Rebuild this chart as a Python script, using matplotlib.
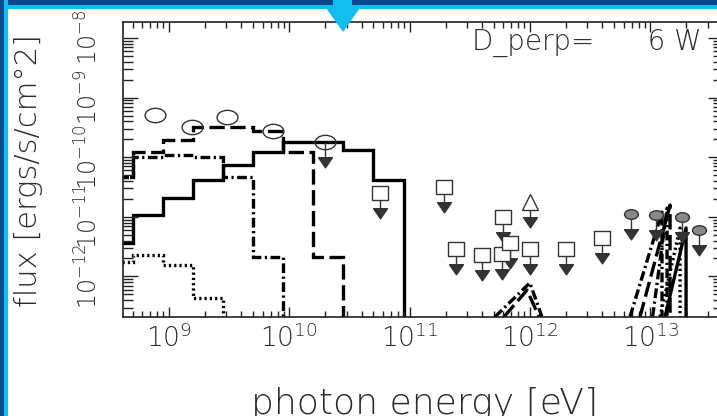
import matplotlib
matplotlib.use("Agg")
import matplotlib.pyplot as plt
import numpy as np
from matplotlib.patches import Rectangle, Polygon
from matplotlib.path import Path
from matplotlib.transforms import Affine2D
from matplotlib.ticker import LogLocator, FuncFormatter, NullFormatter

plt.rcParams['font.family'] = ['DejaVu Sans']
plt.rcParams['font.weight'] = 'light'
plt.rcParams['mathtext.fontset'] = 'custom'
plt.rcParams['mathtext.rm'] = 'DejaVu Sans:light'
plt.rcParams['mathtext.it'] = 'DejaVu Sans:light'
plt.rcParams['mathtext.bf'] = 'DejaVu Sans:light'
plt.rcParams['mathtext.default'] = 'rm'
plt.rcParams['lines.scale_dashes'] = False

# model spectra, histogrammed: log10 bin edges [eV] and flux per bin [ergs/s/cm^2]
log_e_solid = [8.45, 8.70, 8.95, 9.20, 9.45, 9.70, 9.95, 10.20, 10.45, 10.70, 10.95]
flux_solid = [3.6e-12, 1.07e-11, 2.07e-11, 4.1e-11, 7.4e-11, 1.22e-10, 1.8e-10, 1.8e-10, 1.32e-10, 4.1e-11]

log_e_dashed = [8.45, 8.70, 8.95, 9.20, 9.45, 9.70, 9.95, 10.20, 10.45]
flux_dashed = [4.66e-11, 1.22e-10, 1.95e-10, 3.2e-10, 3.2e-10, 2.75e-10, 1.22e-10, 2.12e-12]

log_e_dashdot = [8.45, 8.70, 8.95, 9.20, 9.45, 9.70, 9.95]
flux_dashdot = [4.66e-11, 1.0e-10, 1.08e-10, 1.0e-10, 4.66e-11, 2.12e-12]

log_e_dotted = [8.45, 8.70, 8.95, 9.20, 9.45]
flux_dotted = [1.75e-12, 2.29e-12, 1.55e-12, 4.35e-13]

# TeV components (log10 E, flux)
tev1_dashdot_x = [11.71, 12.00, 12.10]
tev1_dashdot_y = [2.1e-13, 7.8e-13, 2.1e-13]
tev1_dashed_x = [11.785, 11.976, 12.076]
tev1_dashed_y = [2.1e-13, 5.9e-13, 2.1e-13]

tev2_dashdot_x = [12.832, 13.098, 13.098]
tev2_dashdot_y = [2.1e-13, 1.2e-11, 2.1e-13]
tev2_dashed_x = [12.915, 13.165, 13.165]
tev2_dashed_y = [2.1e-13, 1.58e-11, 2.1e-13]
tev3_dashdot_x = [13.02, 13.14, 13.14]
tev3_dashdot_y = [2.1e-13, 1.4e-11, 2.1e-13]
tev2_dotted_x = [13.081, 13.248, 13.248]
tev2_dotted_y = [2.1e-13, 6.5e-12, 2.1e-13]
tev2_solid_x = [13.123, 13.298, 13.298]
tev2_solid_y = [2.1e-13, 6.5e-12, 2.1e-13]

# observations
circ_log_e = [8.884, 9.191, 9.482, 9.864, 10.297]
circ_flux = [5.1e-10, 3.2e-10, 4.7e-10, 2.75e-10, 1.8e-10]
circ_ul = [False, False, False, False, True]

sq_log_e = [10.754, 11.286, 11.386, 11.602, 11.768, 11.776, 11.835, 12.001, 12.300, 12.599]
sq_flux = [2.5e-11, 3.16e-11, 2.88e-12, 2.29e-12, 2.38e-12, 9.9e-12, 3.63e-12, 2.88e-12, 2.88e-12, 4.4e-12]

tri_log_e = [12.001]
tri_flux = [1.77e-11]

oval_log_e = [12.840, 13.048, 13.264, 13.406]
oval_flux = [1.11e-11, 1.07e-11, 9.9e-12, 6.0e-12]

ul_drop = 0.33  # arrow length for upper limits, in decades

W, H = 717, 416
fig = plt.figure(figsize=(W / 100, H / 100), dpi=100, facecolor='white')

# slide frame
def px_box(x0, y0, w, h, color):
    fig.add_artist(Rectangle((x0 / W, 1 - (y0 + h) / H), w / W, h / H,
                             transform=fig.transFigure, color=color, lw=0, zorder=5))

dark_blue = '#0a4a8c'
cyan = '#14bdf0'
px_box(0, 0, W, 9, cyan)
px_box(0, 0, W, 5, dark_blue)
px_box(0, 0, 8, H, cyan)
px_box(0, 0, 4, H, dark_blue)
arrow_px = [(333, 0), (352, 0), (352, 8), (360, 8), (343, 32), (326, 8), (333, 8)]
fig.add_artist(Polygon([(x / W, 1 - y / H) for x, y in arrow_px], closed=True,
                       transform=fig.transFigure, color=cyan, lw=0, zorder=6))

ax = fig.add_axes([123 / W, 1 - 317 / H, 600 / W, 295 / H])
ax.set_xscale('log')
ax.set_yscale('log')
ax.set_xlim(10 ** 8.618, 10 ** 13.605)
ax.set_ylim(10 ** -12.681, 10 ** -7.732)

ink = 'black'
lw = 2.4
dashed = (0, (11, 4))
dashdot = (0, (7, 2.5, 1.6, 2.5))
dotted = (0, (1.6, 2.2))
base = 1e-14

ax.stairs(flux_solid, 10 ** np.array(log_e_solid), baseline=base, color=ink, lw=lw)
ax.stairs(flux_dashed, 10 ** np.array(log_e_dashed), baseline=base, color=ink, lw=lw, linestyle=dashed)
ax.stairs(flux_dashdot, 10 ** np.array(log_e_dashdot), baseline=base, color=ink, lw=lw, linestyle=dashdot)
ax.stairs(flux_dotted, 10 ** np.array(log_e_dotted), baseline=base, color=ink, lw=lw, linestyle=dotted)

for xs, ys, ls in [(tev1_dashdot_x, tev1_dashdot_y, dashdot), (tev1_dashed_x, tev1_dashed_y, dashed),
                   (tev2_dashdot_x, tev2_dashdot_y, dashdot), (tev2_dashed_x, tev2_dashed_y, dashed),
                   (tev3_dashdot_x, tev3_dashdot_y, dashdot),
                   (tev2_dotted_x, tev2_dotted_y, dotted), (tev2_solid_x, tev2_solid_y, '-')]:
    ax.plot(10 ** np.array(xs), ys, color=ink, lw=lw, linestyle=ls)

# wide markers
oval = Affine2D().scale(1.45, 1.0).transform_path(Path.unit_circle())
box = Path([(-0.58, -0.5), (0.58, -0.5), (0.58, 0.5), (-0.58, 0.5), (-0.58, -0.5)],
           [Path.MOVETO, Path.LINETO, Path.LINETO, Path.LINETO, Path.CLOSEPOLY])
head = Path([(-0.65, 0.45), (0.65, 0.45), (0.0, -0.5), (-0.65, 0.45)],
            [Path.MOVETO, Path.LINETO, Path.LINETO, Path.CLOSEPOLY])
mark_col = '#333333'


def upper_limits(xs, ys):
    xs = 10 ** np.array(xs)
    ys = np.array(ys)
    tips = ys * 10 ** (-ul_drop)
    ax.vlines(xs, tips, ys, color=mark_col, lw=1.0, zorder=3)
    ax.plot(xs, tips, linestyle='none', marker=head, ms=10, color=mark_col, zorder=4)


ax.plot(10 ** np.array(circ_log_e), circ_flux, linestyle='none', marker=oval, ms=15,
        mfc='none', mec=mark_col, mew=1.0, zorder=4)
upper_limits([x for x, u in zip(circ_log_e, circ_ul) if u], [y for y, u in zip(circ_flux, circ_ul) if u])

upper_limits(sq_log_e, sq_flux)
ax.plot(10 ** np.array(sq_log_e), sq_flux, linestyle='none', marker=box, ms=12,
        mfc='white', mec=mark_col, mew=1.0, zorder=5)

upper_limits(tri_log_e, tri_flux)
ax.plot(10 ** np.array(tri_log_e), tri_flux, linestyle='none', marker='^', ms=11,
        mfc='white', mec=mark_col, mew=1.0, zorder=5)

upper_limits(oval_log_e, oval_flux)
ax.plot(10 ** np.array(oval_log_e), oval_flux, linestyle='none', marker=oval, ms=10,
        mfc='#888888', mec=mark_col, mew=1.0, zorder=5)

# axes styling
txt_col = '#2a2a2a'
for s in ax.spines.values():
    s.set_linewidth(1.2)
    s.set_color('#222222')

ax.xaxis.set_major_locator(LogLocator(base=10, numticks=20))
ax.xaxis.set_minor_locator(LogLocator(base=10, subs=np.arange(2, 10), numticks=20))
ax.yaxis.set_major_locator(LogLocator(base=10, numticks=20))
ax.yaxis.set_minor_locator(LogLocator(base=10, subs=np.arange(2, 10), numticks=20))
pow_fmt = FuncFormatter(lambda v, pos: r'$10^{%d}$' % round(np.log10(v)))
ax.xaxis.set_major_formatter(pow_fmt)
ax.yaxis.set_major_formatter(pow_fmt)
ax.xaxis.set_minor_formatter(NullFormatter())
ax.yaxis.set_minor_formatter(NullFormatter())

ax.tick_params(which='both', direction='in', top=True, right=True, color='#222222')
ax.tick_params(axis='x', which='major', length=7.5, width=1.0, pad=5, labelsize=19, labelcolor=txt_col)
ax.tick_params(axis='x', which='minor', length=4, width=1.0)
ax.tick_params(axis='y', which='major', length=11, width=1.0, pad=15, labelsize=17,
               labelcolor=txt_col, labelrotation=90)
ax.tick_params(axis='y', which='minor', length=7, width=1.0)
for lab in ax.get_yticklabels():
    lab.set_verticalalignment('center')

ax.text(0.582, 0.905, 'D_perp=      6 W', transform=ax.transAxes, fontsize=20,
        color=txt_col, ha='left', va='baseline')

fig.text(425 / W, 1 - 414 / H, 'photon energy [eV]', fontsize=26, color=txt_col,
         ha='center', va='baseline')
fig.text(29 / W, 1 - 171 / H, 'flux [ergs/s/cm°2]', fontsize=22, color=txt_col,
         ha='center', va='center', rotation=90)

fig.savefig('out.png', dpi=100, facecolor='white')
